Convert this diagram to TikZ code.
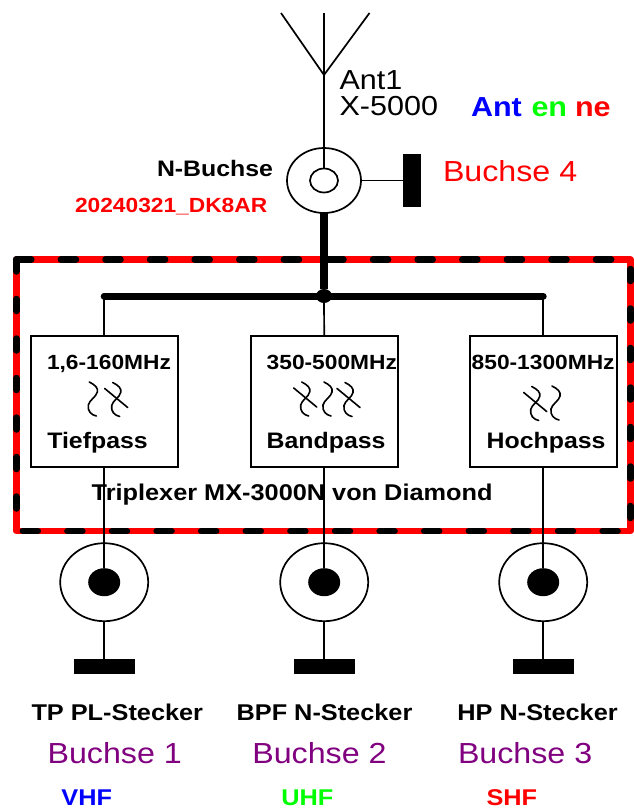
\documentclass[tikz,border=0pt]{standalone}
\usepackage{fontspec}
\setmainfont[FakeStretch=1.11]{Liberation Sans}
\usetikzlibrary{positioning,shapes.geometric}
\definecolor{antblue}{RGB}{0,0,255}
\definecolor{antgreen}{RGB}{0,255,0}
\definecolor{antred}{RGB}{255,0,0}
\definecolor{jackpurple}{RGB}{128,0,128}

\begin{document}
\begin{tikzpicture}[x=1pt,y=-1pt,
			line width=1.7pt,
			every node/.style={
				inner sep=0pt,
				outer sep=0pt
			},
			filterbox/.style={
				draw,
				line width=2pt,
				minimum width=147pt,
				minimum height=131pt
			},
			socket/.style={
				draw,
				ellipse,
				minimum width=88pt,
				minimum height=78pt
			},
			pin/.style={
				ellipse,
				fill=black,
				minimum width=32pt,
				minimum height=28pt
			},
			plug/.style={
				fill=black,
				minimum width=61pt,
				minimum height=15.5pt
			},
			wavepen/.style={line width=1.6pt,line cap=round},
			framedash/.style={line width=6.5pt,line cap=round},
			biglabel/.style={anchor=base west,font=\fontsize{29}{31}\selectfont},
			boldlabel/.style={anchor=base west,font=\fontsize{22.8}{25}\selectfont\bfseries},
			filterlabel/.style={anchor=base west,font=\fontsize{20.5}{23}\selectfont\bfseries}]

			\useasboundingbox (0,0) rectangle (633,811);

			\coordinate (frameTL) at (16.3,259.5);
			\coordinate (frameTR) at (630.5,259.5);
			\coordinate (frameBR) at (630.5,531);
			\coordinate (frameBL) at (16.3,531);

			\draw[antred,line width=6.5pt,line join=round](frameTL)--(frameTR)--(frameBR)--(frameBL)--cycle;

			\draw[framedash,dash pattern=on 15pt off 29.6pt](frameTL)--(frameTR);

			\draw[framedash,dash pattern=on 15pt off 29.6pt,dash phase=38.1pt](frameBL)--(frameBR);

			\draw[framedash,dash pattern=on 12pt off 27.5pt](frameTL)--(frameBL);

			\draw[framedash,dash pattern=on 12pt off 27.5pt,dash phase=30pt](frameTR)--(frameBR);

			\node (tp)[filterbox] at (104.2,401.2){};

			\node (bp)[filterbox,right=73pt of tp]{};

			\node (hp)[filterbox,right=72pt of bp]{};

			\node (tpSocket)[socket,below=76.5pt of tp]{};

			\node (bpSocket)[socket,below=76.5pt of bp]{};

			\node (hpSocket)[socket,below=76.5pt of hp]{};

			\node (tpPin)[pin] at (tpSocket){};

			\node (bpPin)[pin] at (bpSocket){};

			\node (hpPin)[pin] at (hpSocket){};

			\node (tpPlug)[plug,below=37.5pt of tpSocket]{};

			\node (bpPlug)[plug,below=37.5pt of bpSocket]{};

			\node (hpPlug)[plug,below=37.5pt of hpSocket]{};

			\node (feedSocket)[draw,ellipse,minimum width=74pt,minimum height=65pt] at (324,180.5){};

			\node (feedPin)[draw,ellipse,minimum width=28pt,minimum height=24pt] at (feedSocket){};

			\node (feedPlug)[fill=black,minimum width=17.5pt,minimum height=53pt,right=42pt of feedSocket]{};

			\node (busDot)[pin,minimum width=16pt,minimum height=14pt] at (324,296){};

			\coordinate (antApex) at (324,75);
			\coordinate (antTop) at (324,13);
			\coordinate (antLeft) at (281,13);
			\coordinate (antRight) at (369.5,13);
			\coordinate (busLeft) at (tp.north |- busDot);
			\coordinate (busRight) at (hp.north |- busDot);

			\draw(antTop)--(feedPin.north);

			\draw[line join=miter](antLeft)--(antApex)--(antRight);

			\draw(feedSocket.east)--(feedPlug.west);

			\draw[line width=7.5pt](feedSocket.south)--(busDot);

			\draw[line width=7pt,line cap=round](busLeft)--(busRight);

			\draw(busLeft)--(tp.north);

			\draw(busDot)--(bp.north);

			\draw(busRight)--(hp.north);

			\draw(tp.south)--(tpPin);

			\draw(bp.south)--(bpPin);

			\draw(hp.south)--(hpPin);

			\draw(tpSocket.south)--(tpPlug.north);

			\draw(bpSocket.south)--(bpPlug.north);

			\draw(hpSocket.south)--(hpPlug.north);

			\foreach \wx/\wy in {89.3/382,112.7/382.5,301.7/382,324/382,345/382.5,531.7/386.5,552/386}
				\draw[wavepen,shift={(\wx,\wy)}] (0,0) .. controls (6,3) and (9,6) .. (8,10) .. controls (7,15) and (0,18) .. (-1,23) .. controls (-2,29) and (2,33) .. (7,34);

			\foreach \wx/\wy in {112.7/382.5,301.7/382,345/382.5,531.7/386.5}
				\draw[wavepen,shift={(\wx,\wy)}] (-8,6) -- (15,25);

			\node (antName)[biglabel,font=\fontsize{27.5}{29}\selectfont] at (339.6,89.3){Ant1};

			\node (antType)[biglabel,font=\fontsize{27.5}{29}\selectfont] at (339.6,115){X-5000};

			\node (antA)[biglabel,font=\fontsize{27.5}{29}\selectfont\bfseries,text=antblue] at (471,116.7){Ant};

			\node (antB)[biglabel,font=\fontsize{27.5}{29}\selectfont\bfseries,text=antgreen] at (531.5,116.7){en};

			\node (antC)[biglabel,font=\fontsize{27.5}{29}\selectfont\bfseries,text=antred] at (575,116.7){ne};

			\node (feedName)[boldlabel,font=\fontsize{22.4}{25}\selectfont\bfseries] at (157,176.7){N-Buchse};

			\node (stamp)[boldlabel,font=\fontsize{20.5}{23}\selectfont\bfseries,text=antred] at (75,212.7){20240321\_DK8AR};

			\node (jackD)[biglabel,text=antred] at (443,181.7){Buchse 4};

			\node (tpRange)[filterlabel] at (47,369.3){1,6-160MHz};

			\node (bpRange)[filterlabel] at (266.7,369.3){350-500MHz};

			\node (hpRange)[filterlabel] at (471.7,369.3){850-1300MHz};

			\node (tpName)[boldlabel,font=\fontsize{22.4}{25}\selectfont\bfseries] at (47.3,448.3){Tiefpass};

			\node (bpName)[boldlabel,font=\fontsize{22.4}{25}\selectfont\bfseries] at (266.7,448.3){Bandpass};

			\node (hpName)[boldlabel,font=\fontsize{22.4}{25}\selectfont\bfseries] at (486.7,448.3){Hochpass};

			\node (title)[boldlabel] at (91.7,500){Triplexer MX-3000N von Diamond};

			\node (tpPlugName)[boldlabel] at (31.5,720){TP PL-Stecker};

			\node (bpPlugName)[boldlabel] at (236.6,720){BPF N-Stecker};

			\node (hpPlugName)[boldlabel] at (457.4,720){HP N-Stecker};

			\node (jackA)[biglabel,text=jackpurple] at (47.6,763){Buchse 1};

			\node (jackB)[biglabel,text=jackpurple] at (252.3,763){Buchse 2};

			\node (jackC)[biglabel,text=jackpurple] at (458,763){Buchse 3};

			\node (bandA)[boldlabel,text=antblue] at (61.4,805.5){VHF};

			\node (bandB)[boldlabel,text=antgreen] at (281.4,805.5){UHF};

			\node (bandC)[boldlabel,text=antred] at (486.5,805.5){SHF};

		\end{tikzpicture}
\end{document}
